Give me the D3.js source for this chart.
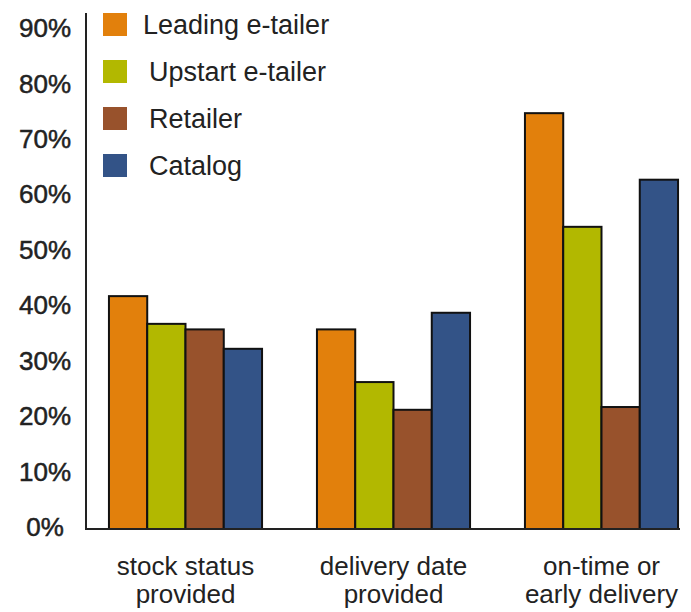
<!DOCTYPE html>
<html>
<head>
<meta charset="utf-8">
<script src="https://cdn.jsdelivr.net/npm/d3@7"></script>
<style>
  body { margin: 0; background: #fff; }
  text { font-family: 'Liberation Sans', Arial, sans-serif; fill: #222; }
</style>
</head>
<body>
<svg class="chart"></svg>
<script>
const categories = [['stock status', 'provided'], ['delivery date', 'provided'], ['on-time or', 'early delivery']];
const seriesNames = ['Leading e-tailer', 'Upstart e-tailer', 'Retailer', 'Catalog'];
const leading = [42, 36, 75];
const upstart = [37, 26.5, 54.5];
const retailer = [36, 21.5, 22];
const catalog = [32.5, 39, 63];
const yTicks = [0, 10, 20, 30, 40, 50, 60, 70, 80, 90];

const colors = ['#E2800C', '#B2B800', '#98522C', '#335387'];
const series = [leading, upstart, retailer, catalog];

const width = 691;
const height = 612;
const baseline = 529;
const axisLeft = 86;
const axisRight = 680;

const svg = d3.select('.chart')
  .attr('width', width)
  .attr('height', height);

const catKeys = categories.map(c => c.join(' '));

const x0 = d3.scaleBand()
  .domain(catKeys)
  .range([81.5, 705.5])
  .paddingInner(0.264)
  .paddingOuter(0.132);

const x1 = d3.scaleBand()
  .domain(seriesNames)
  .range([0, x0.bandwidth()]);

const y = d3.scaleLinear()
  .domain([0, 90])
  .range([baseline, 30]);

// bars
const groups = svg.append('g')
  .selectAll('g')
  .data(catKeys)
  .enter().append('g')
  .attr('transform', d => 'translate(' + x0(d) + ',0)');

groups.selectAll('rect')
  .data((d, i) => seriesNames.map((s, j) => ({ name: s, value: series[j][i], color: colors[j] })))
  .enter().append('rect')
  .attr('x', d => x1(d.name))
  .attr('y', d => y(d.value))
  .attr('width', x1.bandwidth())
  .attr('height', d => y(0) - y(d.value))
  .style('fill', d => d.color)
  .style('stroke', '#111')
  .style('stroke-width', 2);

// axis lines
svg.append('line')
  .attr('x1', axisLeft).attr('x2', axisLeft)
  .attr('y1', 13).attr('y2', baseline)
  .style('stroke', '#222')
  .style('stroke-width', 2);

svg.append('line')
  .attr('x1', axisLeft - 1).attr('x2', axisRight)
  .attr('y1', baseline).attr('y2', baseline)
  .style('stroke', '#222')
  .style('stroke-width', 2);

// y tick labels
svg.append('g')
  .selectAll('text')
  .data(yTicks)
  .enter().append('text')
  .attr('x', 45)
  .attr('y', d => y(d) - 2)
  .attr('dy', '0.35em')
  .attr('text-anchor', 'middle')
  .style('font-size', '26px')
  .style('stroke', '#222')
  .style('stroke-width', 0.5)
  .text(d => d + '%');

// category labels
const catLabels = svg.append('g')
  .selectAll('text')
  .data(categories)
  .enter().append('text')
  .attr('x', (d, i) => x0(catKeys[i]) + x0.bandwidth() / 2)
  .attr('y', 575)
  .attr('text-anchor', 'middle')
  .style('font-size', '26px');

catLabels.selectAll('tspan')
  .data(d => d)
  .enter().append('tspan')
  .attr('x', function () { return d3.select(this.parentNode).attr('x'); })
  .attr('dy', (d, i) => i ? 28 : 0)
  .text(d => d);

// legend
const legend = svg.append('g')
  .selectAll('g')
  .data(seriesNames)
  .enter().append('g')
  .attr('transform', (d, i) => 'translate(103,' + (13 + i * 47) + ')');

legend.append('rect')
  .attr('width', 24)
  .attr('height', 23)
  .style('fill', (d, i) => colors[i]);

legend.append('text')
  .attr('x', (d, i) => i ? 46 : 40)
  .attr('y', 21)
  .style('font-size', '27px')
  .text(d => d);
</script>
</body>
</html>
